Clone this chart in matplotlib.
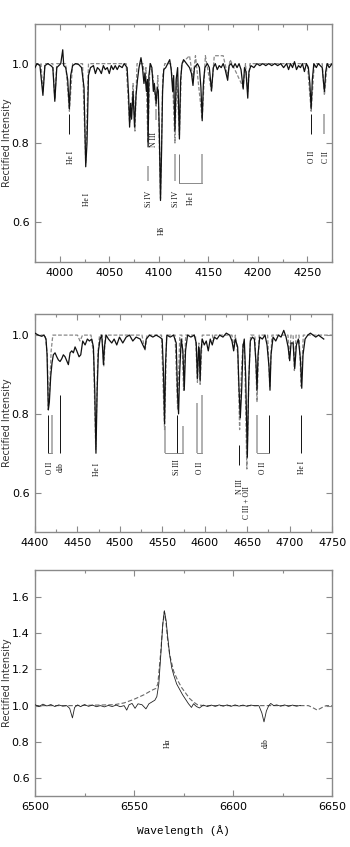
import matplotlib
matplotlib.use("Agg")
import matplotlib.pyplot as plt
from matplotlib.ticker import MultipleLocator, FormatStrFormatter

# ---- panel 1: 3975-4275 A ----
p1_wave_obs = [3975, 3977, 3980, 3983, 3985, 3988, 3991, 3993, 3995, 3997, 3999, 4001, 4003, 4004,
               4006, 4008, 4009.7, 4011, 4013, 4016, 4019, 4022, 4024.5, 4026.2, 4027.5, 4029, 4031,
               4034, 4036, 4038, 4040, 4042, 4044, 4046, 4048, 4050, 4052, 4054, 4056, 4058, 4060,
               4063, 4065, 4068, 4069.5, 4070.5, 4071.5, 4072.5, 4074, 4075.5, 4077, 4078.5, 4080,
               4082, 4083.5, 4085, 4086, 4087.5, 4088.5, 4089.2, 4090, 4091.5, 4093, 4094.5, 4095.5,
               4097.3, 4098.5, 4099.5, 4100.5, 4101.7, 4102.8, 4103.8, 4105, 4107, 4109, 4111, 4112.5,
               4114, 4115, 4116.3, 4117.5, 4119, 4120.8, 4122, 4123.5, 4125, 4128, 4131, 4133, 4134.5,
               4136, 4139, 4141, 4142.5, 4143.8, 4145, 4146.5, 4149, 4151, 4153.2, 4155, 4157, 4159,
               4161, 4163, 4165, 4167, 4169.5, 4171, 4173, 4175, 4177, 4179, 4181, 4183, 4185.2,
               4186.5, 4188, 4189.8, 4191, 4193, 4196, 4199, 4202, 4205, 4208, 4211, 4214, 4217, 4220,
               4223, 4226, 4229, 4231, 4233, 4235, 4237, 4239, 4241, 4243, 4245, 4247, 4249, 4251,
               4252.5, 4253.8, 4255, 4256.5, 4259, 4261, 4263, 4265, 4266, 4267.2, 4268.5, 4270,
               4272, 4275]
p1_flux_obs = [0.99, 1.0, 0.995, 0.92, 0.995, 1.0, 0.995, 0.99, 0.905, 0.99, 0.995, 1.0, 1.035, 0.995,
               0.99, 0.96, 0.886, 0.97, 0.995, 1.0, 0.998, 0.99, 0.94, 0.74, 0.80, 0.97, 0.99,
               0.995, 0.975, 0.99, 0.985, 0.975, 0.995, 0.985, 0.99, 0.975, 0.995, 0.985, 0.995, 0.985, 0.995,
               0.99, 1.0, 0.99, 0.92, 0.84, 0.90, 0.86, 0.93, 0.84, 0.92, 0.96, 0.99,
               1.015, 0.99, 0.95, 0.975, 0.93, 0.96, 0.79, 0.97, 1.0, 0.99, 0.93, 0.95,
               0.90, 0.94, 0.93, 0.83, 0.655, 0.78, 0.93, 0.985, 0.99, 1.0, 1.01, 0.985,
               0.93, 0.97, 0.83, 0.96, 0.99, 0.81, 0.96, 1.0, 1.01, 1.0, 0.99, 0.975, 0.945,
               0.99, 1.0, 0.99, 0.94, 0.856, 0.95, 0.99, 1.0, 0.99, 0.932, 0.99, 1.0, 0.985,
               0.995, 0.99, 1.0, 0.985, 0.958, 0.995, 1.0, 0.99, 1.0, 0.99, 1.0, 0.985, 0.936,
               0.99, 0.98, 0.913, 0.98, 0.995, 0.99, 1.0, 0.995, 1.0, 0.995, 1.0, 0.995, 1.0, 0.995,
               1.0, 0.99, 1.0, 0.985, 1.0, 0.99, 1.005, 0.985, 0.995, 0.99, 1.0, 0.98, 1.0, 0.99,
               0.95, 0.886, 0.96, 1.0, 0.99, 1.0, 0.995, 0.99, 0.96, 0.93, 0.98, 1.0,
               0.99, 1.0]
p1_wave_mod = [3975, 3981, 3983, 3985, 3993, 3995, 3997, 4006, 4009.7, 4013, 4023, 4026.2, 4029, 4067,
               4070.5, 4072.3, 4074, 4075.9, 4078, 4084, 4086, 4087, 4089, 4091, 4094, 4097.3, 4099,
               4101.7, 4104, 4106, 4112, 4114, 4116.3, 4118, 4120.8, 4123, 4131, 4134.5, 4137, 4143.8,
               4147, 4153.2, 4156, 4165, 4169.5, 4172, 4185.2, 4187.5, 4189.8, 4192, 4250, 4253.8, 4257,
               4265, 4267.2, 4270, 4275]
p1_flux_mod = [1.0, 1.0, 0.93, 1.0, 1.0, 0.91, 1.0, 1.0, 0.88, 1.0, 1.0, 0.75, 1.0, 1.0,
               0.85, 0.88, 0.95, 0.83, 1.0, 1.0, 0.96, 0.99, 0.80, 1.0, 0.97, 0.89, 0.97,
               0.66, 0.97, 1.0, 1.0, 0.95, 0.80, 0.97, 0.82, 1.0, 1.02, 0.96, 1.02, 0.86,
               1.02, 0.93, 1.02, 1.02, 0.97, 1.01, 0.94, 1.0, 0.93, 1.0, 1.0, 0.88, 1.0,
               1.0, 0.92, 1.0, 1.0]

# ---- panel 2: 4400-4750 A ----
p2_wave_obs = [4400, 4403.9, 4407.9, 4410.6, 4413, 4414.2, 4415.7, 4416.9, 4418.5, 4420.1, 4421.6,
               4423.6, 4425.6, 4427.5, 4429.5, 4431.5, 4433.4, 4435.4, 4437.4, 4439.3, 4441.3, 4443.3,
               4445.2, 4447.2, 4449.2, 4451.9, 4453.9, 4456.2, 4459, 4461.7, 4464.1, 4466.8, 4468.8,
               4470.4, 4471.8, 4473.2, 4474.7, 4476.7, 4478.6, 4479.8, 4480.6, 4481.8, 4483.8, 4486.5,
               4490.4, 4493.2, 4496.3, 4499.5, 4503.4, 4507.4, 4511.3, 4515.2, 4519.1, 4523.9, 4527,
               4529.4, 4531, 4534.9, 4538.8, 4542.7, 4546.7, 4549.8, 4551.4, 4552.6, 4553.8, 4555.3,
               4559.3, 4563.2, 4566.3, 4567.9, 4569.1, 4570.3, 4572.2, 4574.2, 4575.8, 4577.3, 4579.7,
               4583.6, 4587.6, 4589.9, 4591.3, 4592.7, 4593.5, 4594.5, 4595.5, 4597, 4599.4, 4601.7,
               4604.1, 4606.4, 4608.8, 4611.2, 4614.3, 4617.5, 4621.4, 4625.3, 4629.3, 4632, 4634,
               4635.9, 4638.7, 4640.2, 4641.8, 4643.4, 4645, 4646.5, 4648.1, 4650.1, 4651.7, 4653.6,
               4656, 4658.4, 4660.3, 4661.5, 4662.7, 4664.7, 4667.8, 4670.9, 4673.3, 4675.6, 4676.8,
               4678, 4680.4, 4683.6, 4686.7, 4689.8, 4693, 4695.7, 4698.1, 4700, 4701.6, 4704, 4705.9,
               4707.9, 4710.2, 4712.6, 4714.2, 4715.7, 4718.1, 4721.3, 4724.4, 4727.6, 4730.7, 4733.9,
               4737, 4740.1]
p2_flux_obs = [1.005, 1.0, 0.997, 1.0, 0.99, 0.95, 0.81, 0.83, 0.895, 0.93, 0.95,
               0.955, 0.945, 0.937, 0.933, 0.94, 0.95, 0.945, 0.935, 0.925, 0.955, 0.96,
               0.955, 0.97, 0.96, 0.945, 0.95, 0.985, 0.975, 0.99, 0.985, 0.99, 0.97,
               0.86, 0.70, 0.86, 0.96, 0.99, 1.0, 0.96, 0.925, 0.97, 1.0, 0.99,
               0.98, 0.99, 0.975, 0.995, 0.98, 0.995, 1.0, 0.985, 0.995, 0.99, 0.975,
               0.965, 0.99, 1.0, 0.995, 1.0, 0.995, 0.99, 0.9, 0.775, 0.93, 1.0,
               0.995, 1.0, 0.98, 0.85, 0.80, 0.9, 0.99, 0.96, 0.86, 0.96, 1.0,
               0.995, 1.0, 0.98, 0.89, 0.97, 0.96, 0.885, 0.96, 0.99, 0.975, 0.985,
               0.96, 0.99, 0.975, 0.995, 0.99, 1.0, 0.995, 1.005, 1.0, 0.985, 0.96,
               0.99, 0.97, 0.87, 0.79, 0.86, 0.97, 0.99, 0.9, 0.69, 0.88, 0.985,
               0.995, 0.99, 0.93, 0.86, 0.95, 0.995, 0.99, 1.0, 0.975, 0.92, 0.86,
               0.95, 0.995, 0.985, 1.0, 0.995, 1.012, 0.995, 0.97, 0.935, 0.98, 0.98, 0.915,
               0.975, 0.99, 0.94, 0.865, 0.95, 0.99, 1.0, 1.005, 1.0, 0.995, 1.0,
               0.995, 0.99]
p2_wave_mod = [4400, 4412, 4414.5, 4415.7, 4417, 4419, 4421, 4450, 4453, 4456, 4466, 4469, 4471.5,
               4474, 4476, 4479, 4481, 4483, 4526, 4529.6, 4532, 4549, 4552.6, 4555, 4565, 4568,
               4570.5, 4573, 4575, 4577.5, 4589, 4591.3, 4593, 4594.5, 4597, 4609, 4610, 4612, 4632,
               4634, 4636, 4639, 4641, 4643, 4645, 4647, 4649.5, 4652, 4654, 4659, 4661.5, 4664, 4674,
               4676.5, 4679, 4698, 4699.5, 4701.5, 4704, 4705.5, 4707.5, 4711, 4713.5, 4716, 4750]
p2_flux_mod = [1.0, 1.0, 0.95, 0.82, 0.85, 0.96, 1.0, 1.0, 0.985, 1.0, 1.0, 0.95, 0.71,
               0.95, 1.0, 1.0, 0.92, 1.0, 1.0, 0.96, 1.0, 1.0, 0.76, 1.0, 1.0, 0.81,
               1.0, 1.0, 0.86, 1.0, 1.0, 0.88, 0.98, 0.875, 1.0, 1.0, 0.985, 1.0, 1.0,
               0.97, 1.0, 0.95, 0.76, 0.9, 0.98, 0.95, 0.66, 0.9, 1.0, 1.0, 0.83, 1.0, 1.0,
               0.87, 1.0, 1.0, 0.94, 1.0, 1.0, 0.91, 1.0, 1.0, 0.87, 1.0, 1.0]

# ---- panel 3: 6500-6650 A (H-alpha) ----
p3_wave_obs = [6500, 6502, 6504, 6506, 6508, 6510, 6512, 6514, 6516, 6517.5, 6518.9, 6520, 6521.5,
               6523, 6525, 6527, 6529, 6531, 6533, 6535, 6537, 6539, 6541, 6543, 6545, 6546.3, 6547.5,
               6549, 6550.5, 6552, 6554, 6556, 6557.5, 6559, 6560.5, 6561.5, 6562.5, 6563.5, 6564.5,
               6565.3, 6566.2, 6567, 6568, 6569, 6570, 6571.5, 6573, 6574.5, 6576, 6577.5, 6579, 6580,
               6581.5, 6583, 6585, 6587, 6589, 6591, 6593, 6595, 6597, 6599, 6601, 6603, 6605, 6607,
               6609, 6611, 6613, 6614.5, 6615.6, 6616.8, 6618, 6619, 6620.5, 6622, 6624, 6626, 6628,
               6630, 6632, 6634]
p3_flux_obs = [1.005, 0.995, 1.008, 0.998, 1.006, 0.995, 1.004, 0.997, 1.0, 0.985, 0.932, 0.99, 1.004,
               0.994, 1.006, 0.996, 1.003, 0.994, 1.0, 0.993, 1.001, 0.995, 1.003, 0.994, 1.0, 0.975, 1.005,
               1.012, 0.985, 1.01, 1.005, 0.982, 1.01, 1.02, 1.03, 1.05, 1.12, 1.28, 1.45,
               1.525, 1.47, 1.38, 1.28, 1.21, 1.17, 1.12, 1.09, 1.06, 1.035, 1.01, 0.99, 1.01,
               0.995, 0.987, 1.003, 0.995, 1.003, 0.996, 1.004, 0.997, 1.004, 0.996, 1.004, 0.997, 1.003, 0.996,
               1.003, 0.999, 1.0, 0.96, 0.91, 0.97, 1.0, 1.012, 1.0, 1.004, 0.997, 1.004, 0.996,
               1.003, 0.997, 1.001]
p3_wave_mod = [6500, 6520, 6540, 6545, 6550, 6555, 6559, 6561, 6562, 6563.5, 6564.5, 6565.3, 6566.2,
               6567, 6568, 6570, 6572, 6574, 6576, 6578, 6580, 6582, 6585, 6638, 6640, 6642.5, 6645,
               6647, 6650]
p3_flux_mod = [1.0, 1.0, 1.005, 1.015, 1.035, 1.06, 1.085, 1.095, 1.12, 1.3, 1.45, 1.52, 1.45,
               1.36, 1.28, 1.19, 1.14, 1.1, 1.07, 1.04, 1.02, 1.005, 1.0, 1.0, 0.99, 0.975, 0.99,
               1.0, 1.0]

# ---- line identifications: (label, wavelengths) ----
p1_ids = [("He I", [4009.3]), ("He I", [4026.2]), ("Si IV", [4088.9]), ("N III", [4097.3]),
          ("H\u03b4", [4101.7]), ("Si IV", [4116.1]), ("He I", [4120.8, 4143.8]),
          ("O II", [4253.9]), ("C II", [4267.2])]
p2_ids = [("O II", [4415.7, 4419.7]), ("dib", [4429.5]), ("He I", [4471.5]),
          ("Si III", [4552.6, 4567.8, 4574.8]), ("O II", [4591.0, 4596.2]), ("N III", [4640.6]),
          ("C III + OII", [4650.0]), ("O II", [4661.6, 4676.2]), ("He I", [4713.1])]
p3_ids = [("H\u03b1", [6566.5]), ("dib", [6616.0])]

BLACK = "#111111"
GREY = "#aaaaaa"
SPINE = "#8a8a8a"
LABEL_FONT = ["Liberation Serif", "DejaVu Serif"]

# marker layout per id: (line colour(s), line top(s), line bottom, text x, text y)
p1_layout = [
    ([BLACK], [0.873], 0.822, 4011.5, 0.763),
    ([], [], None, 4028.0, 0.657),
    ([GREY], [0.742], 0.703, 4090.0, 0.658),
    ([GREY], [0.886], 0.857, 4095.5, 0.81),
    ([], [], None, 4103.0, 0.58),
    ([GREY], [0.771], 0.703, 4117.5, 0.658),
    (["#777777", GREY], [0.771, 0.771], 0.700, 4132.0, 0.66),
    ([BLACK], [0.873], 0.822, 4255.0, 0.765),
    ([GREY], [0.873], 0.822, 4268.5, 0.765),
]
p2_layout = [
    ([BLACK, GREY], [0.797, 0.797], 0.700, 4417.7, 0.664),
    ([BLACK], [0.848], 0.700, 4430.5, 0.664),
    ([], [], None, 4472.5, 0.66),
    ([GREY, BLACK, GREY], [0.768, 0.797, 0.768], 0.700, 4567.0, 0.664),
    ([GREY, GREY], [0.827, 0.848], 0.700, 4594.0, 0.664),
    ([BLACK], [0.72], 0.67, 4641.0, 0.615),
    ([], [], None, 4650.0, 0.575),
    ([GREY, BLACK], [0.797, 0.797], 0.700, 4668.5, 0.664),
    ([BLACK], [0.797], 0.700, 4714.0, 0.664),
]
p3_layout = [
    ([], [], None, 6567.0, 0.79),
    ([], [], None, 6616.5, 0.79),
]


def draw_ids(ax, ids, layout):
    for (label, waves), (colors, tops, bottom, tx, ty) in zip(ids, layout):
        for w, c, top in zip(waves, colors, tops):
            ax.plot([w, w], [bottom, top], color=c,
                    lw=1.3 if c == GREY else 0.7, solid_capstyle="butt", zorder=1)
        if len(waves) > 1 and colors:
            ax.plot([waves[0], waves[-1]], [bottom, bottom], color="#777777", lw=0.6, zorder=1)
        ax.text(tx, ty, label, rotation=90, ha="center", va="center",
                fontsize=5.5, family=LABEL_FONT, color=BLACK)


def style_axes(ax, xlim, ylim, xmajor, ymajor):
    ax.set_xlim(*xlim)
    ax.set_ylim(*ylim)
    ax.xaxis.set_major_locator(MultipleLocator(xmajor))
    ax.xaxis.set_minor_locator(MultipleLocator(xmajor / 2))
    ax.yaxis.set_major_locator(MultipleLocator(ymajor))
    ax.yaxis.set_major_formatter(FormatStrFormatter("%.1f"))
    ax.tick_params(which="both", direction="in", top=True, right=True, color=SPINE,
                   labelsize=8, width=0.8, pad=4)
    ax.tick_params(which="major", length=4)
    ax.tick_params(which="minor", length=2)
    for s in ax.spines.values():
        s.set_color(SPINE)
        s.set_linewidth(1.0)
    ax.set_ylabel("Rectified Intensity", fontsize=7, color="#333333")
    ax.yaxis.set_label_coords(-0.078, 0.5)


fig = plt.figure(figsize=(3.5, 8.47), dpi=100)

ax1 = fig.add_axes([0.100, 0.6907, 0.849, 0.2810])
ax1.plot(p1_wave_mod, p1_flux_mod, color="#888888", lw=0.9, ls=(0, (3, 1.5)), zorder=2)
ax1.plot(p1_wave_obs, p1_flux_obs, color=BLACK, lw=0.9, zorder=3)
draw_ids(ax1, p1_ids, p1_layout)
style_axes(ax1, (3975, 4275), (0.5, 1.1), 50, 0.2)

ax2 = fig.add_axes([0.100, 0.3719, 0.849, 0.2571])
ax2.plot(p2_wave_mod, p2_flux_mod, color="#888888", lw=0.9, ls=(0, (3, 1.5)), zorder=2)
ax2.plot(p2_wave_obs, p2_flux_obs, color=BLACK, lw=0.9, zorder=3)
draw_ids(ax2, p2_ids, p2_layout)
style_axes(ax2, (4400, 4750), (0.5, 1.053), 50, 0.2)

ax3 = fig.add_axes([0.100, 0.0602, 0.849, 0.2668])
ax3.plot(p3_wave_mod, p3_flux_mod, color="#666666", lw=0.8, ls=(0, (4, 2)), zorder=2)
ax3.plot(p3_wave_obs, p3_flux_obs, color="#222222", lw=0.6, zorder=3)
draw_ids(ax3, p3_ids, p3_layout)
style_axes(ax3, (6500, 6650), (0.5, 1.75), 50, 0.2)
ax3.set_xlabel("Wavelength (\u00c5)", fontsize=8, family=["Liberation Mono", "DejaVu Sans Mono"],
               labelpad=10)

fig.savefig("out.png", dpi=100)
